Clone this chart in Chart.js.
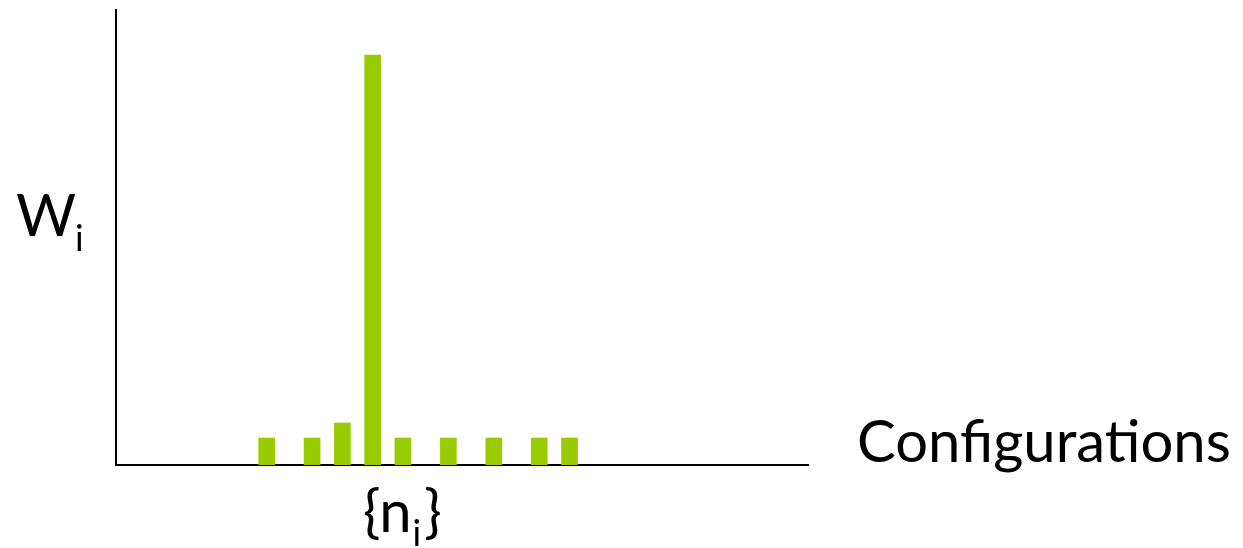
<!DOCTYPE html>
<html>
<head>
<meta charset="utf-8">
<script src="https://cdn.jsdelivr.net/npm/chart.js@4"></script>
<style>
  html, body { margin: 0; padding: 0; background: #fff; }
  #wrap { width: 1243px; height: 548px; position: relative; }
</style>
</head>
<body>
<div id="wrap"><canvas id="chart"></canvas></div>
<script>
// configuration slots along the x axis and their weights W_i
const slots = [0, 3, 5, 7, 9, 12, 15, 18, 20];
const weights = [27, 27, 42, 410, 27, 27, 27, 27, 27];

const yTitle = 'W';
const ySub = 'i';
const xTitle = 'Configurations';
const xTickMain = '{n';
const xTickSub = 'i';
const xTickEnd = '}';

const FONT = 'Lato, "Open Sans", sans-serif';

// draws the axis labels (W_i, {n_i}, Configurations)
const labelsPlugin = {
  id: 'labels',
  afterDraw(chart) {
    const ctx = chart.ctx;
    ctx.save();
    ctx.fillStyle = '#000';
    ctx.textBaseline = 'alphabetic';

    // W_i on the left
    ctx.font = '58px ' + FONT;
    ctx.fillText(yTitle, 16, 236);
    let w = ctx.measureText(yTitle).width;
    ctx.font = '36px ' + FONT;
    ctx.fillText(ySub, 16 + w - 1, 251);

    // Configurations on the right
    ctx.font = '58px ' + FONT;
    ctx.fillText(xTitle, 857, 462);

    // {n_i} under the axis
    let x = 363;
    ctx.font = '58px ' + FONT;
    ctx.fillText(xTickMain, x, 532);
    x += ctx.measureText(xTickMain).width + 1;
    ctx.font = '36px ' + FONT;
    ctx.fillText(xTickSub, x, 546);
    x += ctx.measureText(xTickSub).width + 3;
    ctx.font = '58px ' + FONT;
    ctx.fillText(xTickEnd, x, 532);
    ctx.restore();
  }
};

new Chart(document.getElementById('chart'), {
  type: 'bar',
  data: {
    datasets: [{
      data: slots.map((s, i) => ({ x: s, y: weights[i] })),
      backgroundColor: '#99cc00',
      borderWidth: 0,
      barThickness: 16
    }]
  },
  options: {
    responsive: true,
    maintainAspectRatio: false,
    animation: false,
    layout: { padding: { left: 116, top: 10, right: 435, bottom: 83 } },
    plugins: {
      legend: { display: false },
      tooltip: { enabled: false }
    },
    scales: {
      x: {
        type: 'linear',
        offset: false,
        min: -9.95,
        max: 35.75,
        grid: { display: false, drawTicks: false },
        ticks: { display: false },
        border: { display: true, color: '#000', width: 2 }
      },
      y: {
        min: 0,
        max: 455,
        grid: { display: false, drawTicks: false },
        ticks: { display: false },
        border: { display: true, color: '#000', width: 2 }
      }
    }
  },
  plugins: [labelsPlugin]
});
</script>
</body>
</html>
